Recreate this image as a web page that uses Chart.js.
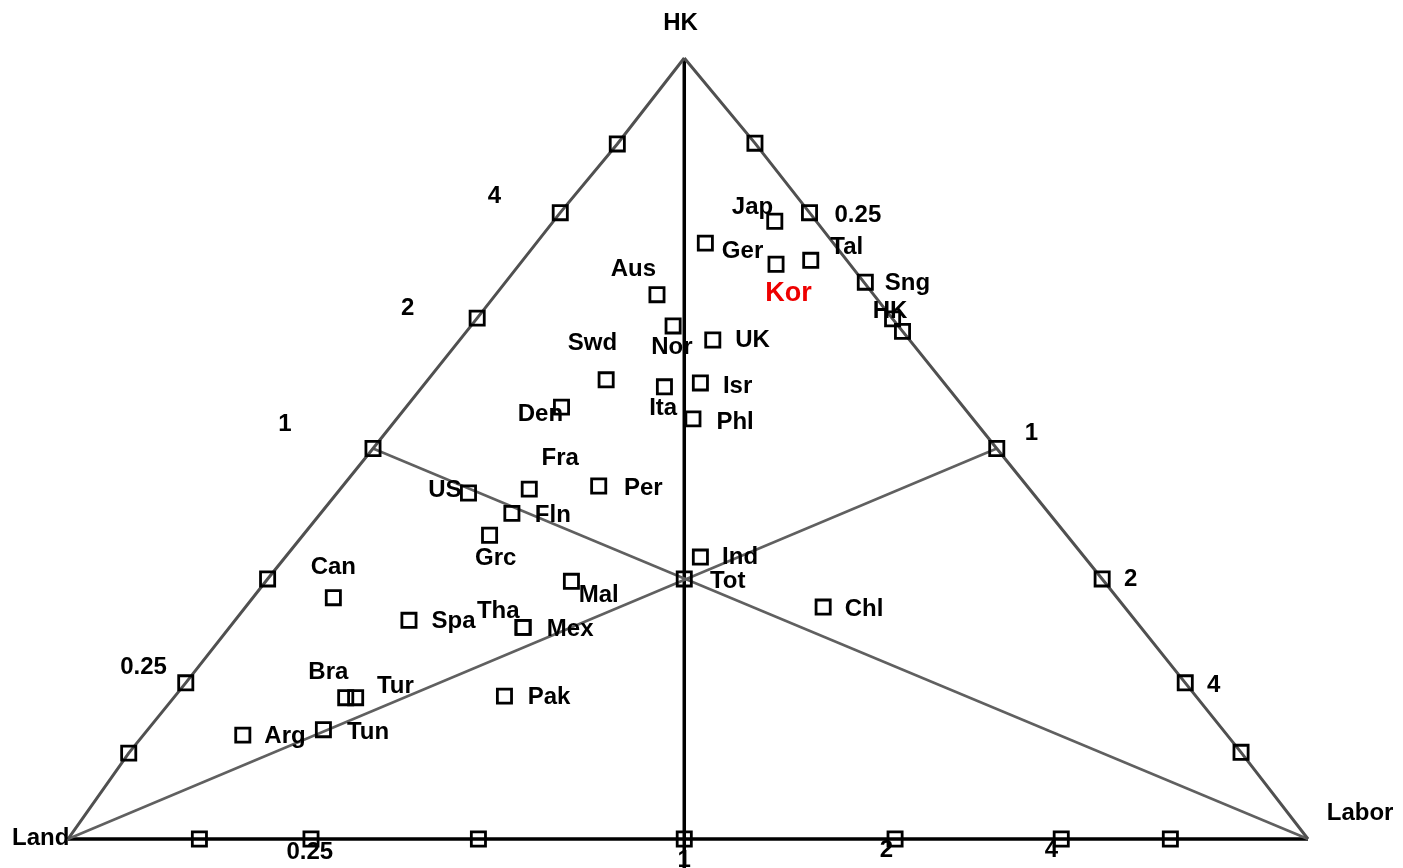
<!DOCTYPE html>
<html>
<head>
<meta charset="utf-8">
<title>HK Land Labor</title>
<script src="https://cdn.jsdelivr.net/npm/chart.js@4.4.1/dist/chart.umd.min.js"></script>
<style>
  html, body { margin: 0; padding: 0; background: #fff; }
  #wrap { width: 1403px; height: 868px; }
</style>
</head>
<body>
<div id="wrap"><canvas id="chart"></canvas></div>
<script>
// triangle coords: Land = (0,0), Labor = (1,0), HK = (0.497,1)
const countries = ['Jap', 'Ger', 'Kor', 'Tal', 'Sng', 'HK', 'Aus', 'Nor', 'UK', 'Swd', 'Ita', 'Isr', 'Den', 'Phl', 'Fra', 'Per',
    'US', 'Fln', 'Grc', 'Ind', 'Tot', 'Can', 'Mal', 'Chl', 'Spa', 'Tha', 'Mex', 'Bra', 'Tur', 'Pak', 'Tun', 'Arg'];
const countryX = [0.570, 0.514, 0.571, 0.599, 0.643, 0.673, 0.475, 0.488, 0.520, 0.434, 0.481, 0.510, 0.398, 0.504, 0.372, 0.428,
    0.323, 0.358, 0.340, 0.510, 0.497, 0.214, 0.406, 0.609, 0.275, 0.367, 0.367, 0.224, 0.232, 0.352, 0.206, 0.141];
const countryY = [0.791, 0.763, 0.736, 0.741, 0.713, 0.650, 0.697, 0.657, 0.639, 0.588, 0.579, 0.584, 0.553, 0.538, 0.448, 0.452,
    0.443, 0.417, 0.389, 0.361, 0.333, 0.309, 0.330, 0.297, 0.280, 0.271, 0.271, 0.181, 0.181, 0.183, 0.140, 0.133];

// where the country names sit
const labelX = [0.552, 0.544, 0.581, 0.628, 0.677, 0.663, 0.456, 0.487, 0.552, 0.423, 0.480, 0.540, 0.381, 0.538, 0.397, 0.464,
    0.304, 0.391, 0.345, 0.542, 0.532, 0.214, 0.428, 0.642, 0.311, 0.347, 0.405, 0.210, 0.264, 0.388, 0.242, 0.175];
const labelY = [0.809, 0.752, 0.698, 0.758, 0.712, 0.676, 0.729, 0.630, 0.638, 0.635, 0.551, 0.580, 0.544, 0.534, 0.488, 0.449,
    0.447, 0.415, 0.359, 0.361, 0.330, 0.348, 0.312, 0.294, 0.279, 0.292, 0.268, 0.213, 0.195, 0.182, 0.136, 0.132];
const highlight = 'Kor';

// ratio marks along the three sides
const leftMarkX = [0.049, 0.095, 0.161, 0.246, 0.330, 0.397, 0.443];
const leftMarkY = [0.110, 0.200, 0.333, 0.500, 0.667, 0.802, 0.890];
const rightMarkX = [0.554, 0.598, 0.665, 0.749, 0.834, 0.901, 0.946];
const rightMarkY = [0.891, 0.802, 0.666, 0.500, 0.333, 0.200, 0.111];
const baseMarkX = [0.106, 0.196, 0.331, 0.497, 0.667, 0.801, 0.889];

const tickText = ['0.25', '1', '2', '4'];
const leftTickX = [0.061, 0.175, 0.274, 0.344];
const leftTickY = [0.220, 0.531, 0.680, 0.823];
const rightTickX = [0.637, 0.777, 0.857, 0.924];
const rightTickY = [0.799, 0.519, 0.332, 0.197];
const baseTickX = [0.195, 0.497, 0.660, 0.793];
const baseTickY = [-0.017, -0.027, -0.014, -0.015];

const corners = ['HK', 'Land', 'Labor'];
const cornerX = [0.494, -0.022, 1.042];
const cornerY = [1.044, 0.001, 0.033];

function pts(xs, ys) {
    return xs.map(function (x, i) { return { x: x, y: Array.isArray(ys) ? ys[i] : ys }; });
}

const land = { x: 0, y: 0 }, labor = { x: 1, y: 0 }, apex = { x: 0.497, y: 1 };
const leftSide = [land].concat(pts(leftMarkX, leftMarkY), [apex]);
const rightSide = [apex].concat(pts(rightMarkX, rightMarkY), [labor]);

function lineSet(data, color, width) {
    return {
        data: data, showLine: true, pointRadius: 0, borderColor: color,
        borderWidth: width, backgroundColor: color, clip: false, order: 5
    };
}
function squareSet(data) {
    return {
        data: data, pointStyle: 'rect', pointRadius: 10, borderColor: '#000', borderWidth: 2.8,
        backgroundColor: 'rgba(0,0,0,0)', clip: false, order: 1
    };
}

const textPlugin = {
    id: 'texts',
    afterDatasetsDraw: function (chart) {
        const ctx = chart.ctx, sx = chart.scales.x, sy = chart.scales.y;
        const font = 'bold 24px "Liberation Sans", Arial, sans-serif';
        ctx.save();
        ctx.textAlign = 'center';
        ctx.textBaseline = 'middle';
        function put(txt, x, y, color, f) {
            ctx.fillStyle = color;
            ctx.font = f || font;
            ctx.fillText(txt, sx.getPixelForValue(x), sy.getPixelForValue(y));
        }
        countries.forEach(function (c, i) {
            if (c === highlight) put(c, labelX[i], labelY[i], '#ee0000', 'bold 27px "Liberation Sans", Arial, sans-serif');
            else put(c, labelX[i], labelY[i], '#000');
        });
        tickText.forEach(function (t, i) {
            put(t, leftTickX[i], leftTickY[i], '#000');
            put(t, rightTickX[i], rightTickY[i], '#000');
            put(t, baseTickX[i], baseTickY[i], '#000');
        });
        corners.forEach(function (c, i) { put(c, cornerX[i], cornerY[i], '#000'); });
        ctx.restore();
    }
};

new Chart(document.getElementById('chart'), {
    type: 'scatter',
    data: {
        datasets: [
            squareSet(pts(countryX, countryY)),
            squareSet(pts(leftMarkX, leftMarkY)),
            squareSet(pts(rightMarkX, rightMarkY)),
            squareSet(pts(baseMarkX, 0)),
            lineSet(leftSide, '#505050', 3),
            lineSet(rightSide, '#505050', 3),
            lineSet([land, { x: 0.749, y: 0.5 }], '#606060', 2.5),
            lineSet([labor, { x: 0.246, y: 0.5 }], '#606060', 2.5),
            lineSet([land, labor], '#000', 3.5),
            lineSet([apex, { x: 0.497, y: -0.04 }], '#000', 3.5)
        ]
    },
    options: {
        responsive: true,
        maintainAspectRatio: false,
        animation: false,
        events: [],
        layout: { padding: 0, autoPadding: false },
        plugins: { legend: { display: false }, tooltip: { enabled: false } },
        scales: {
            x: { type: 'linear', min: -0.0548, max: 1.0766, display: false },
            y: { type: 'linear', min: -0.0371, max: 1.0743, display: false }
        }
    },
    plugins: [textPlugin]
});
</script>
</body>
</html>
